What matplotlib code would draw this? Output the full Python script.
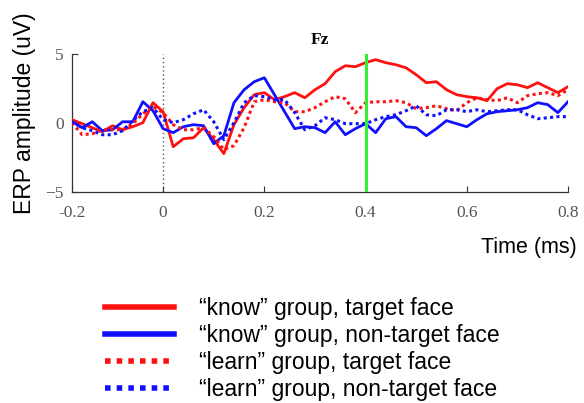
import numpy as np
import matplotlib
matplotlib.use('Agg')
import matplotlib.pyplot as plt

# time axis (s), 20 ms steps
time = np.round(np.arange(-0.18, 0.801, 0.02), 2)

# ERP amplitudes (uV) at Fz
know_target = [0.24, -0.05, -0.34, -0.63, -0.2, -0.49, -0.27, 0.02, 1.47, 0.82,
               -1.72, -1.14, -1.07, -0.34, -1.21, -2.22, -0.12, 1.11, 2.05, 2.2,
               1.69, 1.91, 2.2, 1.83, 2.41, 2.85, 3.72, 4.15, 4.08, 4.37,
               4.59, 4.37, 4.22, 4.0, 3.5, 2.92, 2.99, 2.41, 2.05, 1.91,
               1.83, 1.62, 2.49, 2.85, 2.77, 2.56, 2.92, 2.56, 2.2, 2.63]
know_nontarget = [0.09, -0.34, 0.09, -0.56, -0.49, 0.09, 0.09, 1.54, 0.89, -0.41,
                  -0.7, -0.27, -0.12, -0.2, -1.5, -0.92, 1.47, 2.41, 2.99, 3.28,
                  2.05, 0.82, -0.41, -0.27, -0.34, -0.7, 0.09, -0.85, -0.41, -0.05,
                  -0.7, 0.31, 0.46, -0.27, -0.34, -0.92, -0.41, 0.17, -0.05, -0.27,
                  0.24, 0.67, 0.82, 0.89, 0.96, 1.11, 1.47, 1.33, 0.75, 1.54]
learn_target = [0.02, -0.85, -0.78, -0.49, -0.49, -0.49, -0.05, 0.67, 1.18, 0.75,
                -0.12, -0.49, -0.49, -0.34, -0.99, -1.93, -1.64, -0.34, 1.54, 1.69,
                1.54, 1.47, 0.82, 0.82, 1.11, 1.54, 1.91, 1.76, 0.75, 1.47,
                1.54, 1.54, 1.62, 1.47, 1.04, 1.11, 1.25, 1.04, 0.89, 1.47,
                1.83, 1.69, 1.62, 1.83, 1.47, 1.98, 2.12, 2.2, 1.98, 2.41]
learn_nontarget = [0.09, -0.34, -0.56, -0.85, -0.85, -0.56, 0.17, 0.82, 1.11, 0.24,
                   0.02, 0.24, 0.67, 0.96, 0.09, -1.21, 0.02, 1.47, 1.98, 1.91,
                   1.69, 1.69, 0.75, -0.49, -0.2, 0.38, 0.24, -0.05, -0.05, -0.05,
                   0.24, 0.46, 0.6, 0.89, 1.25, 0.6, 0.53, 0.96, 0.96, 0.82,
                   0.96, 0.82, 0.89, 0.96, 0.96, 0.6, 0.31, 0.38, 0.46, 0.46]

labels = ['\u201cknow\u201d group, target face',
          '\u201cknow\u201d group, non-target face',
          '\u201clearn\u201d group, target face',
          '\u201clearn\u201d group, non-target face']

xticks = [-0.18, 0, 0.2, 0.4, 0.6, 0.8]
xticklabels = ['-0.2', '0', '0.2', '0.4', '0.6', '0.8']
yticks = [-5, 0, 5]

fig = plt.figure(figsize=(5.84, 4.03), dpi=100)
ax = fig.add_axes([72/584, 1-192/403, 496/584, 138/403])

dots = (0, (1.0, 1.1))
ax.axvline(0, color='#555555', lw=1.0, ls=(0, (1, 2)), zorder=1)
ax.plot(time, know_target, color='#ff1010', lw=2, label=labels[0], zorder=3)
ax.plot(time, know_nontarget, color='#1010ff', lw=2, label=labels[1], zorder=3)
ax.plot(time, learn_target, color='#ff1010', lw=2.2, ls=dots, label=labels[2], zorder=3)
ax.plot(time, learn_nontarget, color='#1010ff', lw=2.2, ls=dots, label=labels[3], zorder=3)
ax.axvline(0.4, color='#33ee33', lw=2.2, zorder=4)

ax.set_xlim(-0.18, 0.8)
ax.set_ylim(-5, 5)
ax.set_xticks(xticks)
ax.set_xticklabels(xticklabels)
ax.set_yticks(yticks)
for s in ['top', 'right']:
    ax.spines[s].set_visible(False)
for s in ['left', 'bottom']:
    ax.spines[s].set_color('#333333')
    ax.spines[s].set_linewidth(0.9)
ax.tick_params(direction='in', length=4, width=0.8, color='#333333',
               labelsize=12.5, labelcolor='#555555')
ax.tick_params(axis='x', pad=9)
ax.tick_params(axis='y', pad=6)
for lab in ax.get_xticklabels() + ax.get_yticklabels():
    lab.set_family('Liberation Serif')

ax.set_title('Fz', fontsize=12.5, fontweight='bold', family='Liberation Serif', pad=7)

fig.text(25/584, 1-113/403, 'ERP amplitude (uV)', rotation=90, ha='center', va='center',
         fontsize=16.5, family='Liberation Sans')
fig.text(577/584, 1-247/403, 'Time (ms)', ha='right', va='center',
         fontsize=15.5, family='Liberation Sans')

handles, labs = ax.get_legend_handles_labels()
leg = fig.legend(handles, labs, loc='upper left', bbox_to_anchor=(105/584, 1-297/403),
                 frameon=False, borderpad=0, borderaxespad=0, handlelength=3.0,
                 handletextpad=1.1, labelspacing=0.18,
                 prop={'family': 'Liberation Sans', 'size': 16.5})
for h in leg.get_lines():
    h.set_linewidth(4)

fig.savefig('out.png', dpi=100)
